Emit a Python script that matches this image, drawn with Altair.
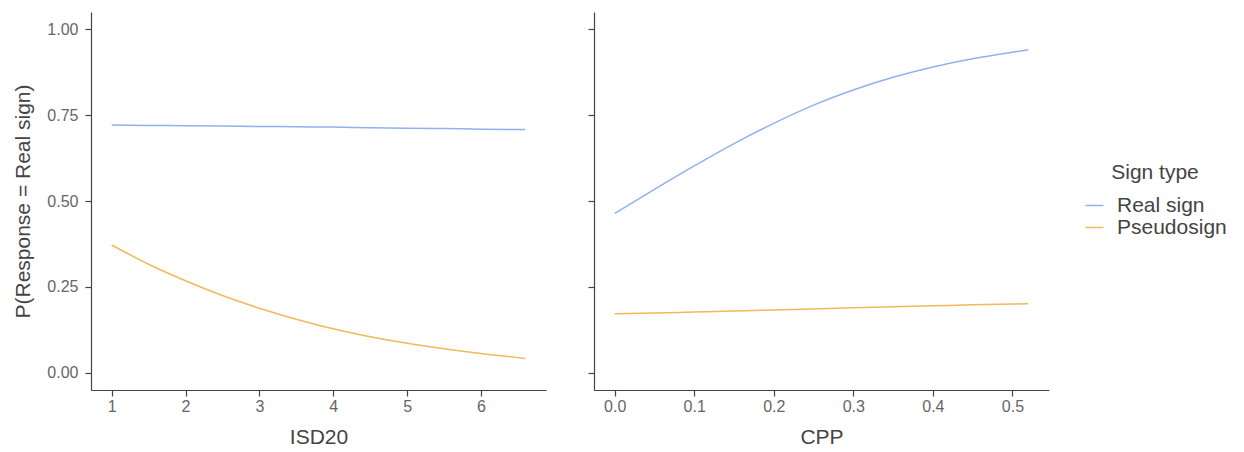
import altair as alt
import pandas as pd

# Left panel (ISD20)
isd_x = [1.0, 1.5, 2.0, 2.5, 3.0, 3.5, 4.0, 4.5, 5.0, 5.5, 6.0, 6.6]
isd_real = [0.721, 0.720, 0.719, 0.718, 0.717, 0.716, 0.715, 0.713, 0.712, 0.711, 0.709, 0.708]
isd_pseudo = [0.372, 0.316, 0.268, 0.225, 0.188, 0.156, 0.128, 0.105, 0.086, 0.070, 0.056, 0.042]

# Right panel (CPP)
cpp_x = [0.0, 0.05, 0.10, 0.15, 0.20, 0.25, 0.30, 0.35, 0.40, 0.45, 0.50, 0.52]
cpp_real = [0.464, 0.534, 0.602, 0.667, 0.726, 0.779, 0.823, 0.860, 0.890, 0.914, 0.933, 0.940]
cpp_pseudo = [0.172, 0.174, 0.177, 0.180, 0.183, 0.186, 0.189, 0.192, 0.195, 0.198, 0.200, 0.201]

types = ["Real sign", "Pseudosign"]
colors = ["#8fb2ee", "#f0b95a"]

def frame(xs, real, pseudo):
    rows = [{"x": a, "p": b, "type": types[0]} for a, b in zip(xs, real)]
    rows += [{"x": a, "p": b, "type": types[1]} for a, b in zip(xs, pseudo)]
    return pd.DataFrame(rows)

df_left = frame(isd_x, isd_real, isd_pseudo)
df_right = frame(cpp_x, cpp_real, cpp_pseudo)

FONT = "Liberation Sans"
W, H = 455, 378

color = alt.Color(
    "type:N",
    scale=alt.Scale(domain=types, range=colors),
    legend=alt.Legend(
        title="Sign type", orient="none", legendX=993, legendY=150,
        symbolType="stroke", symbolSize=324, symbolStrokeWidth=1.5,
        titleAnchor="middle", titleFontSize=21, titleFont=FONT, titleColor="#444",
        titleFontWeight="normal", titlePadding=12,
        labelFontSize=21, labelFont=FONT, labelColor="#444", labelOffset=12,
        rowPadding=0,
    ),
)

yaxis_common = dict(values=[0, 0.25, 0.5, 0.75, 1.0], grid=False, tickSize=6,
                    domainColor="#444", tickColor="#444", domainWidth=1.2, tickWidth=1.2,
                    labelPadding=7, titlePadding=13)

left = alt.Chart(df_left).mark_line(strokeWidth=1.5, interpolate="monotone").encode(
    x=alt.X("x:Q", title="ISD20",
            scale=alt.Scale(domain=[0.72, 6.88], nice=False, zero=False),
            axis=alt.Axis(values=[1, 2, 3, 4, 5, 6], format="d", labelPadding=2, titlePadding=12)),
    y=alt.Y("p:Q", title="P(Response = Real sign)",
            scale=alt.Scale(domain=[-0.05, 1.05], nice=False),
            axis=alt.Axis(format=".2f", **yaxis_common)),
    color=color,
).properties(width=W, height=H)

right = alt.Chart(df_right).mark_line(strokeWidth=1.5, interpolate="monotone").encode(
    x=alt.X("x:Q", title="CPP",
            scale=alt.Scale(domain=[-0.026, 0.546], nice=False, zero=False),
            axis=alt.Axis(values=[0, 0.1, 0.2, 0.3, 0.4, 0.5], format=".1f", labelPadding=2, titlePadding=12)),
    y=alt.Y("p:Q", title=None,
            scale=alt.Scale(domain=[-0.05, 1.05], nice=False),
            axis=alt.Axis(labels=False, **yaxis_common)),
    color=color,
).properties(width=W, height=H)

chart = alt.hconcat(left, right, spacing=41).properties(
    padding={"left": 4, "top": 4, "right": 5, "bottom": 5}
).configure_view(stroke=None).configure_axis(
    grid=False, domainColor="#444", tickColor="#444", domainWidth=1.2, tickWidth=1.2,
    tickSize=6, labelFont=FONT, labelFontSize=16, labelColor="#666", labelPadding=4,
    titleFont=FONT, titleFontSize=21, titleColor="#444", titleFontWeight="normal",
    titlePadding=10,
)

chart.save("out.html", embed_options={"renderer": "svg", "actions": False})
